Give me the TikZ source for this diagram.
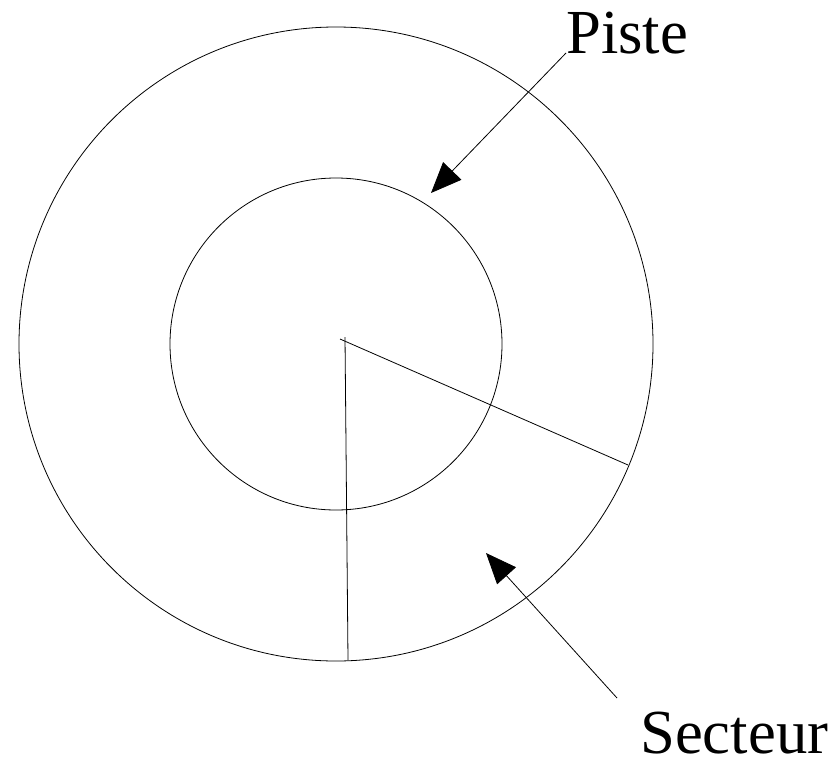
\documentclass[tikz,border=0pt]{standalone}
\usepackage{fontspec}
\setmainfont{Liberation Serif}
\usepackage{tikz}
\usetikzlibrary{arrows.meta}
\tikzset{
  disk/.style={draw, line width=0.6pt},
  radius line/.style={draw, line width=0.6pt},
  pointer/.style={-{Triangle[length=23pt, width=19pt]}, line width=0.6pt},
  label text/.style={inner sep=0pt, font=\fontsize{47}{50}\selectfont},
}
\begin{document}
\begin{tikzpicture}[x=0.75pt, y=-0.75pt]

		%% ── Frame ──
		\useasboundingbox (0,0) rectangle (838,760);

		%% ── Disk ──
		\coordinate (centre) at (336,344);
		\draw[disk] (centre) circle[radius=317];
		\draw[disk] (centre) circle[radius=166];

		%% ── Sector edges ──
		\coordinate (secA0) at (340,339);
		\coordinate (secA1) at (628,465);
		\coordinate (secB0) at (345,337);
		\coordinate (secB1) at (348,660);
		\draw[radius line] (secA0) -- (secA1);
		\draw[radius line] (secB0) -- (secB1);

		%% ── Labels ──
		\node[label text, anchor=base west] (piste)   at (566,53)  {Piste};
		\node[label text, anchor=base west] (secteur) at (640,753) {Secteur};

		%% ── Arrows ──
		\coordinate (pisteTip)   at (431,193);
		\coordinate (secteurTail) at (617,698);
		\coordinate (secteurTip) at (486,553);
		\draw[pointer] (piste.base west) -- (pisteTip);
		\draw[pointer] (secteurTail) -- (secteurTip);

	\end{tikzpicture}
\end{document}
